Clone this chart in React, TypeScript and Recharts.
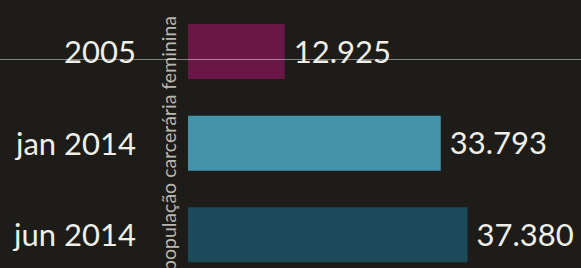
import { BarChart, Bar, XAxis, YAxis, Cell, LabelList, Label } from "recharts";

const CATEGORIES = ["2005", "jan 2014", "jun 2014"];
const VALUES = [12925, 33793, 37380];
const VALUE_LABELS = ["12.925", "33.793", "37.380"];
const BAR_COLORS = ["#6a1646", "#4394ab", "#1b4a5b"];
const AXIS_TITLE = "população carcerária feminina";

const data = CATEGORIES.map((name, i) => ({
  name,
  value: VALUES[i],
  label: VALUE_LABELS[i],
}));

const FONT = "Lato, 'Open Sans', sans-serif";

export default function App() {
  return (
    <div
      style={{
        position: "absolute",
        left: 0,
        top: 0,
        width: 581,
        height: 268,
        overflow: "hidden",
        background: "#1d1c18",
        fontFamily: FONT,
      }}
    >
      <BarChart
        width={581}
        height={281}
        data={data}
        layout="vertical"
        margin={{ top: 6, right: 19, bottom: 0, left: 0 }}
      >
        <XAxis type="number" domain={[0, 50000]} hide />
        <YAxis
          type="category"
          dataKey="name"
          width={188}
          axisLine={false}
          tickLine={false}
          tickSize={0}
          tickMargin={52}
          tick={{ fill: "#efeee7", fontSize: 31, fontFamily: FONT }}
        >
          <Label
            content={(props: any) => {
              const vb = props.viewBox || { x: 0, y: 0, width: 0, height: 0 };
              const x = vb.x + vb.width - 12;
              const y = vb.y + vb.height / 2;
              return (
                <text
                  x={x}
                  y={y}
                  transform={`rotate(-90, ${x}, ${y})`}
                  textAnchor="middle"
                  fill="#b9b8b0"
                  fontSize={19.5}
                  fontFamily={FONT}
                >
                  {AXIS_TITLE}
                </text>
              );
            }}
          />
        </YAxis>
        <Bar dataKey="value" barSize={55} isAnimationActive={false}>
          {data.map((d, i) => (
            <Cell key={d.name} fill={BAR_COLORS[i]} />
          ))}
          <LabelList
            dataKey="label"
            position="right"
            offset={9}
            fill="#efeee7"
            fontSize={31}
            fontFamily={FONT}
          />
        </Bar>
      </BarChart>
      {/* thin scan line across the image */}
      <div
        style={{
          position: "absolute",
          left: 0,
          top: 59,
          width: 581,
          height: 1,
          background: "rgba(255,255,255,0.45)",
        }}
      />
    </div>
  );
}
